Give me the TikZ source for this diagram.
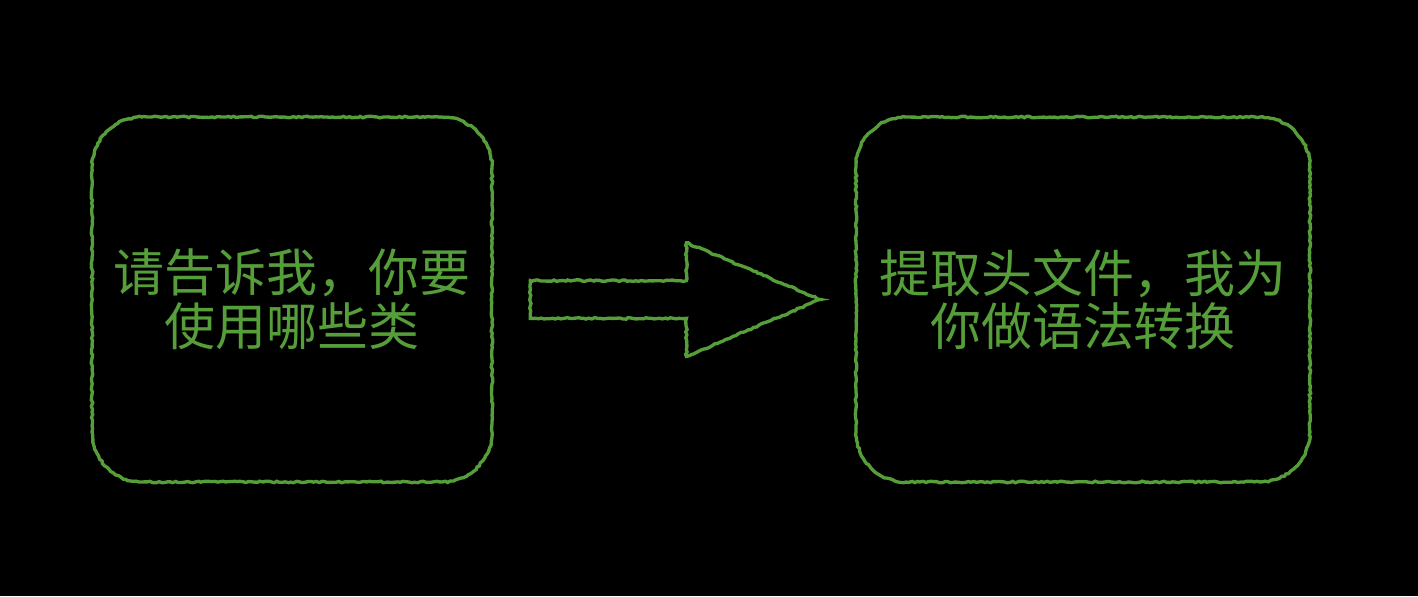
\documentclass[tikz,border=0pt]{standalone}
\usepackage{fontspec}
\newfontfamily\cjk{Noto Sans CJK SC}
\usetikzlibrary{shapes.arrows,decorations.pathmorphing}
\definecolor{chalk}{RGB}{86,158,58}

\begin{document}
\begin{tikzpicture}[x=0.02cm,y=-0.02cm,
  rough/.style={postaction={draw=chalk,line width=1.9pt,sharp corners,decorate,
    decoration={random steps,segment length=1.6pt,amplitude=0.45pt}}},
  stepbox/.style={rough,rounded corners=1cm,minimum height=7.3cm,
    text=chalk,align=center,font=\cjk\fontsize{29}{30.5}\selectfont}]
\fill[black] (0,0) rectangle (1418,596);
\useasboundingbox (0,0) rectangle (1418,596);
\node[stepbox,minimum width=8cm] (ask) at (292,299.5) {请告诉我，你要\\使用哪些类};
\node[stepbox,minimum width=9.08cm] (conv) at (1083,299.5) {提取头文件，我为\\你做语法转换};
\node[rough,single arrow,anchor=west,minimum height=5.8cm,minimum width=2.26cm,
  inner xsep=0pt,inner ysep=0.37cm,single arrow head extend=0.76cm,
  single arrow tip angle=46] (flow) at (530,299.5) {};
\end{tikzpicture}
\end{document}
